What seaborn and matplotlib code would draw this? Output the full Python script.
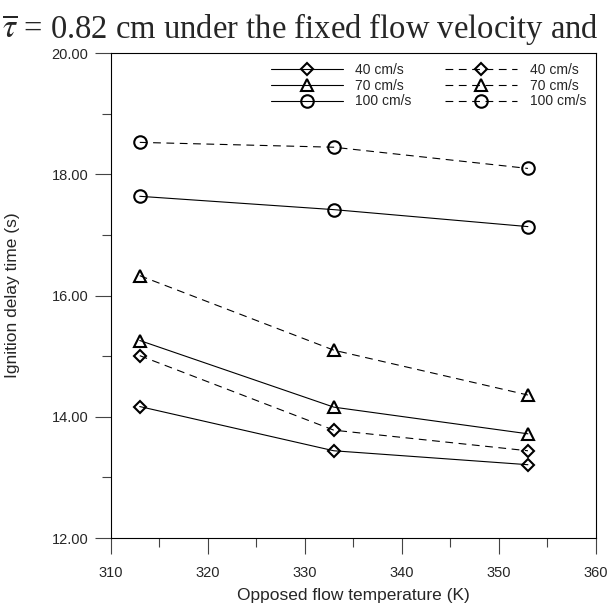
import matplotlib
matplotlib.use("Agg")
import matplotlib.pyplot as plt
from matplotlib.ticker import MultipleLocator, FormatStrFormatter
import seaborn as sns
import pandas as pd

# ---- data ----
temperature = [313, 333, 353]
velocities = ["40 cm/s", "70 cm/s", "100 cm/s"]
solid_40 = [14.17, 13.44, 13.21]
solid_70 = [15.26, 14.16, 13.72]
solid_100 = [17.64, 17.42, 17.14]
dash_40 = [15.01, 13.78, 13.44]
dash_70 = [16.33, 15.10, 14.36]
dash_100 = [18.53, 18.45, 18.10]

sns.set_theme(style="white")
plt.rcParams['font.family'] = ['Liberation Sans', 'DejaVu Sans']
plt.rcParams['mathtext.fontset'] = 'stix'

fig = plt.figure(figsize=(6.08, 6.10), dpi=100)
ax = fig.add_axes([0.182, 0.118, 0.798, 0.7946])

markers = ["D", "^", "o"]
msizes = [6.5, 8.5, 9]
series = [(solid_40, "-", 0), (solid_70, "-", 1), (solid_100, "-", 2),
          (dash_40, "--", 0), (dash_70, "--", 1), (dash_100, "--", 2)]

handles = []
for vals, ls, i in series:
    df = pd.DataFrame({"T": temperature, "t": vals})
    sns.lineplot(data=df, x="T", y="t", ax=ax, color="black", linewidth=0.8,
                 marker=markers[i], markersize=msizes[i],
                 markerfacecolor="none", markeredgecolor="black", markeredgewidth=1.5,
                 linestyle=ls)
    ln = ax.get_lines()[-1]
    if ls == "--":
        ln.set_dashes((7, 5))
    handles.append(ln)

ax.set_xlim(310, 360)
ax.set_ylim(12, 20)
ax.xaxis.set_major_locator(MultipleLocator(10))
ax.xaxis.set_minor_locator(MultipleLocator(5))
ax.yaxis.set_major_locator(MultipleLocator(2))
ax.yaxis.set_minor_locator(MultipleLocator(1))
ax.yaxis.set_major_formatter(FormatStrFormatter("%.2f"))
ax.tick_params(which="major", direction="out", length=11.5, width=0.8, color="#444444",
               labelsize=10.5, pad=4.5, bottom=True, left=True)
ax.tick_params(axis="x", which="major", pad=8.5)
ax.tick_params(which="minor", direction="out", length=6.5, width=0.8, color="#444444",
               bottom=True, left=True)
for sp in ax.spines.values():
    sp.set_visible(True)
    sp.set_color("black")
    sp.set_linewidth(0.8)

ax.set_xlabel("Opposed flow temperature (K)", fontsize=12.5)
ax.set_ylabel("Ignition delay time (s)", fontsize=12.5)
ax.xaxis.set_label_coords(0.5, -0.104)
ax.yaxis.set_label_coords(-0.187, 0.5)

labels = velocities + velocities
ax.legend(handles, labels, ncol=2, frameon=False, fontsize=10, loc="upper right",
          handlelength=5.2, numpoints=1, columnspacing=2.4, handletextpad=0.9,
          labelspacing=0.12, bbox_to_anchor=(1.0, 1.0), borderaxespad=0.3)

fig.text(0.003, 0.938, r"$\overline{\tau}$ = 0.82 cm under the fixed flow velocity and",
         fontsize=23.5, family="Liberation Serif", va="baseline", ha="left")

fig.savefig("out.png", dpi=100)
